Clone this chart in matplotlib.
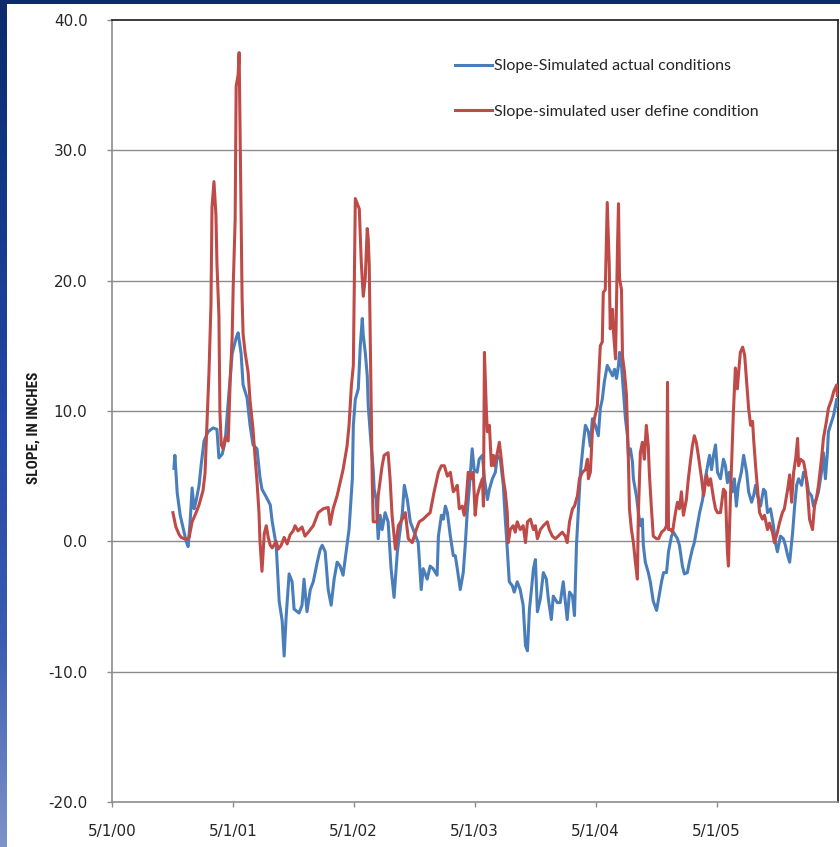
import numpy as np
import pandas as pd
import matplotlib
matplotlib.use("Agg")
import matplotlib.pyplot as plt
from matplotlib.patches import Rectangle
from matplotlib.colors import LinearSegmentedColormap
from matplotlib import font_manager

# ---------------- data (days since 5/1/2000, slope in inches) ----------------
start_date = "2000-05-01"

blue_days = [187, 190, 197, 206, 215, 224, 230, 236, 242, 248, 254, 263, 269, 278, 290, 305, 317, 323,
             333, 342, 351, 363, 375, 381, 390, 396, 408, 417, 426, 438, 447, 453, 466, 478, 484, 496,
             505, 514, 520, 526, 535, 544, 550, 565, 574, 580, 589, 599, 608, 620, 629, 635, 644, 653,
             662, 671, 680, 689, 698, 710, 716, 726, 729, 735, 744, 750, 756, 759, 765, 771, 774, 783,
             789, 792, 798, 804, 810, 816, 825, 834, 843, 852, 862, 868, 877, 883, 892, 901, 913, 925,
             934, 940, 952, 961, 970, 982, 986, 995, 1001, 1007, 1013, 1022, 1031, 1037, 1043, 1052,
             1061, 1067, 1073, 1079, 1088, 1094, 1103, 1109, 1119, 1125, 1134, 1140, 1149, 1158, 1164,
             1173, 1182, 1188, 1194, 1200, 1209, 1215, 1224, 1233, 1242, 1249, 1255, 1261, 1267, 1273,
             1279, 1285, 1294, 1303, 1312, 1318, 1327, 1333, 1345, 1354, 1363, 1375, 1382, 1391, 1397,
             1403, 1409, 1415, 1424, 1430, 1439, 1445, 1451, 1460, 1469, 1475, 1481, 1487, 1496, 1502,
             1512, 1518, 1524, 1530, 1533, 1539, 1545, 1551, 1557, 1560, 1566, 1572, 1575, 1584, 1590,
             1596, 1602, 1605, 1611, 1620, 1626, 1635, 1645, 1651, 1660, 1666, 1675, 1681, 1690, 1696,
             1708, 1714, 1723, 1729, 1738, 1744, 1753, 1759, 1768, 1775, 1784, 1790, 1799, 1805, 1811,
             1817, 1823, 1829, 1838, 1847, 1853, 1859, 1865, 1874, 1880, 1886, 1892, 1901, 1908, 1917,
             1923, 1932, 1938, 1944, 1950, 1959, 1968, 1974, 1980, 1989, 1998, 2004, 2010, 2019, 2028,
             2034, 2041, 2047, 2056, 2062, 2068, 2074, 2083, 2089, 2098, 2104, 2113, 2119, 2128, 2134,
             2143, 2149, 2155, 2161, 2164, 2174, 2180, 2189, 2191]
blue_vals = [5.6, 6.6, 3.7, 2.0, 1.0, 0.0, -0.4, 1.5, 4.1, 2.5, 3.1, 4.3, 5.8, 7.7, 8.4, 8.7, 8.6, 6.4,
             6.7, 7.7, 10.7, 14.4, 15.6, 16.0, 14.4, 12.0, 11.0, 8.9, 7.4, 7.1, 4.9, 4.0, 3.4, 2.8, 1.5, -0.3,
             -4.6, -6.1, -8.8, -5.8, -2.5, -3.1, -5.2, -5.5, -4.9, -2.9, -5.4, -3.7, -3.1, -1.6, -0.6, -0.3, -0.8, -3.7,
             -4.9, -2.9, -1.6, -1.9, -2.6, -0.3, 0.9, 4.8, 8.9, 10.9, 11.7, 15.0, 17.1, 15.8, 14.5, 12.7, 10.4, 7.3,
             5.5, 4.0, 3.2, 0.2, 2.0, 0.9, 2.2, 1.5, -2.1, -4.3, -0.8, 0.4, 2.2, 4.3, 3.2, 1.5, 0.7, -0.1,
             -3.7, -2.1, -2.9, -1.9, -2.1, -2.6, 0.4, 2.0, 1.7, 2.7, 2.2, 0.4, -1.1, -1.1, -2.1, -3.7,
             -2.4, -0.3, 2.2, 4.0, 7.1, 5.5, 5.3, 6.3, 6.6, 4.8, 3.2, 4.0, 4.8, 5.3, 6.6,
             6.3, 4.3, 1.7, -0.6, -3.1, -3.4, -3.9, -3.1, -3.7, -4.9, -8.0, -8.4, -5.2, -3.7, -2.1,
             -1.4, -5.4, -4.4, -2.4, -2.9, -4.4, -6.0, -4.2, -4.7, -4.7, -3.1, -6.0, -3.9, -4.2, -5.7,
             -0.3, 2.5, 5.3, 7.6, 8.9, 8.4, 7.3, 9.4, 8.9, 8.1, 10.2, 10.9, 12.2, 13.5, 13.2,
             12.7, 13.2, 12.5, 13.5, 14.5, 13.5, 11.4, 9.4, 8.1, 6.6, 7.1, 6.1, 4.8, 3.5, 2.2,
             1.2, 1.7, -0.3, -1.6, -2.4, -3.1, -4.6, -5.3, -4.4, -3.1, -2.4, -2.4, -0.8, 0.4, 0.7,
             0.2, -0.3, -1.9, -2.5, -2.4, -1.6, -0.6, -0.1, 1.2, 2.2, 3.2, 4.5, 5.8, 6.6, 5.5,
             6.6, 7.4, 5.3, 4.8, 6.3, 5.8, 4.5, 5.3, 3.8, 4.8, 2.7, 4.3, 5.3, 6.6, 5.3,
             3.8, 3.0, 3.5, 4.3, 3.5, 2.7, 4.0, 3.8, 2.2, 2.5, 1.2, -0.1, -0.8, 0.4, 0.2,
             -0.3, -1.1, -1.6, 0.7, 2.7, 4.3, 4.8, 4.3, 5.3, 4.8, 3.8, 3.5, 2.7, 3.3, 3.8,
             5.3, 6.8, 4.8, 6.8, 8.4, 9.2, 9.7, 10.9, 10.4]

red_days = [184, 193, 203, 209, 218, 227, 233, 242, 254, 263, 275, 281, 287, 293, 299, 302, 308, 314,
            317, 323, 326, 330, 336, 342, 351, 357, 363, 366, 372, 375, 381, 384, 387, 393, 396, 402,
            411, 417, 426, 432, 438, 444, 447, 453, 460, 466, 472, 478, 484, 496, 502, 511, 520, 529,
            538, 547, 553, 562, 574, 583, 593, 608, 623, 638, 653, 659, 668, 680, 689, 698, 710, 716,
            723, 729, 732, 735, 747, 753, 759, 759, 765, 771, 774, 777, 783, 786, 789, 801, 804, 816,
            822, 834, 840, 846, 856, 865, 877, 886, 895, 907, 919, 928, 940, 952, 961, 967, 973, 986,
            995, 1004, 1013, 1022, 1031, 1037, 1043, 1049, 1058, 1064, 1070, 1076, 1085, 1091, 1097,
            1103, 1112, 1119, 1122, 1125, 1131, 1134, 1140, 1146, 1152, 1155, 1164, 1170, 1176, 1182,
            1188, 1194, 1197, 1203, 1212, 1218, 1224, 1233, 1242, 1249, 1255, 1264, 1273, 1279, 1285,
            1294, 1303, 1315, 1321, 1330, 1339, 1348, 1360, 1369, 1375, 1382, 1391, 1397, 1406, 1412,
            1421, 1430, 1436, 1439, 1445, 1451, 1457, 1466, 1469, 1475, 1481, 1484, 1490, 1493, 1496,
            1502, 1505, 1512, 1515, 1521, 1527, 1530, 1533, 1539, 1542, 1548, 1554, 1560, 1563, 1569,
            1575, 1581, 1587, 1590, 1596, 1602, 1608, 1614, 1620, 1623, 1629, 1635, 1645, 1651, 1660,
            1669, 1675, 1678, 1681, 1687, 1693, 1702, 1708, 1714, 1720, 1726, 1735, 1741, 1747, 1753,
            1759, 1765, 1771, 1781, 1787, 1796, 1802, 1808, 1817, 1823, 1829, 1838, 1847, 1853, 1859,
            1862, 1868, 1874, 1877, 1883, 1889, 1892, 1898, 1905, 1911, 1917, 1923, 1929, 1935, 1938,
            1944, 1950, 1956, 1965, 1971, 1980, 1986, 1995, 2001, 2010, 2016, 2025, 2031, 2041, 2047,
            2053, 2059, 2065, 2071, 2074, 2080, 2089, 2095, 2101, 2107, 2116, 2122, 2128, 2134, 2143,
            2149, 2158, 2164, 2174, 2180, 2189, 2191]
red_vals = [2.2, 1.1, 0.5, 0.3, 0.2, 0.15, 0.3, 1.5, 2.2, 2.8, 3.9, 5.2, 9.0, 13.0, 18.2, 25.6, 27.6, 25.0,
            21.3, 17.3, 9.9, 7.4, 7.1, 8.0, 7.7, 12.3, 15.7, 19.4, 24.7, 34.9, 35.8, 37.5, 31.0, 18.6, 15.9, 14.5,
            13.0, 10.8, 8.6, 6.5, 4.6, 2.2, 0.0, -2.3, 0.6, 1.2, 0.3, -0.3, -0.5, 0.0, -0.6, -0.3, 0.3, -0.2,
            0.5, 0.8, 1.2, 0.8, 1.1, 0.4, 0.7, 1.2, 2.2, 2.5, 2.6, 1.3, 2.5, 3.5, 4.5, 5.5, 7.3, 8.9,
            11.9, 13.5, 20.2, 26.3, 25.5, 21.4, 18.8, 18.8, 20.2, 24.0, 23.2, 21.2, 9.9, 4.8, 1.5, 1.5, 3.5, 5.8,
            6.6, 6.8, 4.8, 2.0, -0.6, 1.2, 1.7, 2.2, 0.2, -0.1, 0.9, 1.5, 1.7, 2.0, 2.2, 3.0, 3.8, 5.3,
            5.8, 5.8, 5.0, 5.3, 3.8, 4.0, 4.3, 2.5, 2.7, 2.0, 3.2, 5.3, 4.8, 5.3, 2.0,
            3.5, 4.3, 4.8, 2.7, 14.5, 9.9, 8.4, 8.9, 5.8, 6.6, 5.8, 6.8, 7.6, 6.3, 4.8,
            3.8, 2.2, -0.1, 0.9, 1.2, 0.7, 1.5, 0.9, 1.2, -0.1, 1.5, 1.7, 0.9, 1.2, 0.2,
            0.9, 1.2, 1.5, 0.9, 0.4, 0.2, 0.4, 0.7, 0.4, -0.1, 1.5, 2.5, 2.7, 3.5, 4.8,
            5.3, 5.5, 6.3, 4.8, 5.3, 8.4, 9.4, 10.4, 11.9, 15.0, 15.3, 19.1, 19.3, 22.7, 26.0,
            21.2, 16.3, 17.8, 16.0, 14.0, 22.7, 25.9, 20.2, 19.3, 14.2, 13.0, 11.2, 6.1, 2.5, 0.9,
            -0.1, -1.6, -2.9, 2.2, 6.8, 7.6, 6.3, 8.9, 7.3, 5.3, 2.7, 0.4, 0.2, 0.2, 0.7,
            0.9, 1.2, 12.2, 0.9, 0.9, 0.7, 2.2, 3.0, 2.5, 3.8, 2.0, 3.2, 4.8, 6.1, 7.3,
            8.1, 7.6, 6.6, 4.8, 3.5, 5.1, 4.3, 4.8, 3.3, 2.5, 2.2, 2.2, 4.0, 3.8, -0.8,
            -1.9, 3.3, 7.6, 9.9, 13.3, 11.7, 12.7, 14.5, 14.9, 14.3, 12.2, 10.2, 8.9, 9.2, 7.9,
            5.8, 4.0, 2.2, 1.7, 2.0, 0.9, 1.4, 0.7, -0.1, 0.7, 1.4, 2.2, 2.5, 4.0, 5.1,
            3.0, 5.3, 6.3, 7.9, 5.8, 6.3, 6.1, 5.3, 3.8, 1.7, 0.9, 2.7, 3.3, 4.3, 6.3,
            7.9, 9.2, 10.2, 10.9, 11.5, 12.0, 11.2]

series_labels = ["Slope-Simulated actual conditions", "Slope-simulated user define condition"]
tick_dates = ["2000-05-01", "2001-05-01", "2002-05-01", "2003-05-01", "2004-05-01", "2005-05-01"]
tick_labels = ["5/1/00", "5/1/01", "5/1/02", "5/1/03", "5/1/04", "5/1/05"]
y_ticks = [-20, -10, 0, 10, 20, 30, 40]
y_label = "SLOPE, IN INCHES"

# ---------------- figure ----------------
W, H = 840, 847
fig = plt.figure(figsize=(W / 100, H / 100), dpi=100)
navy = "#0b2b6b"
fig.patch.set_facecolor(navy)

# white panel (behind everything)
fig.patches.append(Rectangle((7 / W, 0), 1 - 7 / W, 1 - 4 / H, transform=fig.transFigure,
                             facecolor="white", edgecolor="none", zorder=-10))

# left gradient strip
gax = fig.add_axes([0, 0, 7 / W, 1 - 4 / H])
grad = np.linspace(0, 1, 256).reshape(-1, 1)
cm = LinearSegmentedColormap.from_list("g", ["#0b2b6b", "#15398a", "#2448a8", "#3a5bb0", "#7d93c8"])
gax.imshow(grad, aspect="auto", cmap=cm, origin="upper")
gax.set_axis_off()

left, right, top, bottom = 112, 838, 20, 802
ax = fig.add_axes([left / W, 1 - bottom / H, (right - left) / W, (bottom - top) / H])
ax.set_facecolor("white")

t0 = pd.Timestamp(start_date)
bx = t0 + pd.to_timedelta(blue_days, unit="D")
rx = t0 + pd.to_timedelta(red_days, unit="D")

blue_c = "#4A7EBB"
red_c = "#BE4B48"
ax.plot(bx, blue_vals, color=blue_c, lw=2.2, label=series_labels[0], zorder=3)
ax.plot(rx, red_vals, color=red_c, lw=2.2, label=series_labels[1], zorder=4)

ax.set_ylim(-20, 40)
ax.set_yticks(y_ticks)
ax.set_yticklabels([f"{v:.1f}" for v in y_ticks])
ax.set_xlim(t0, t0 + pd.Timedelta(days=2193))
ax.set_xticks(pd.to_datetime(tick_dates))
ax.set_xticklabels(tick_labels)

grid_c = "#8c8c8c"
for v in y_ticks[1:-1]:
    ax.axhline(v, color=grid_c, lw=1.0, zorder=1)

for s in ["top", "right"]:
    ax.spines[s].set_color("#1a1a1a")
    ax.spines[s].set_linewidth(1.2)
for s in ["left", "bottom"]:
    ax.spines[s].set_color(grid_c)
    ax.spines[s].set_linewidth(1.2)

ax.tick_params(axis="both", direction="out", length=3.6, width=1, color=grid_c,
               labelsize=11, labelcolor="#262626")
ax.tick_params(axis="y", pad=14)
ax.tick_params(axis="x", pad=12)

narrow = [f for f in ["Liberation Sans Narrow", "Roboto Condensed", "Open Sans Condensed"]
          if any(f == e.name for e in font_manager.fontManager.ttflist)]
fig.text(34 / W, 1 - 428 / H, y_label, rotation=90, ha="center", va="center",
         fontsize=11 if narrow else 9.5, fontweight="bold", color="#1a1a1a",
         family=narrow + ["DejaVu Sans"])

leg = ax.legend(loc="upper left", bbox_to_anchor=((455 - left) / (right - left), 1 - (59 - top) / (bottom - top)),
                frameon=False, handlelength=2.3, handletextpad=0.15,
                labelspacing=1.95, borderaxespad=0, borderpad=0,
                prop={"family": ["Lato", "DejaVu Sans"], "size": 11.5})
for t in leg.get_texts():
    t.set_color("#262626")

fig.savefig("out.png", dpi=100, facecolor=fig.get_facecolor())
